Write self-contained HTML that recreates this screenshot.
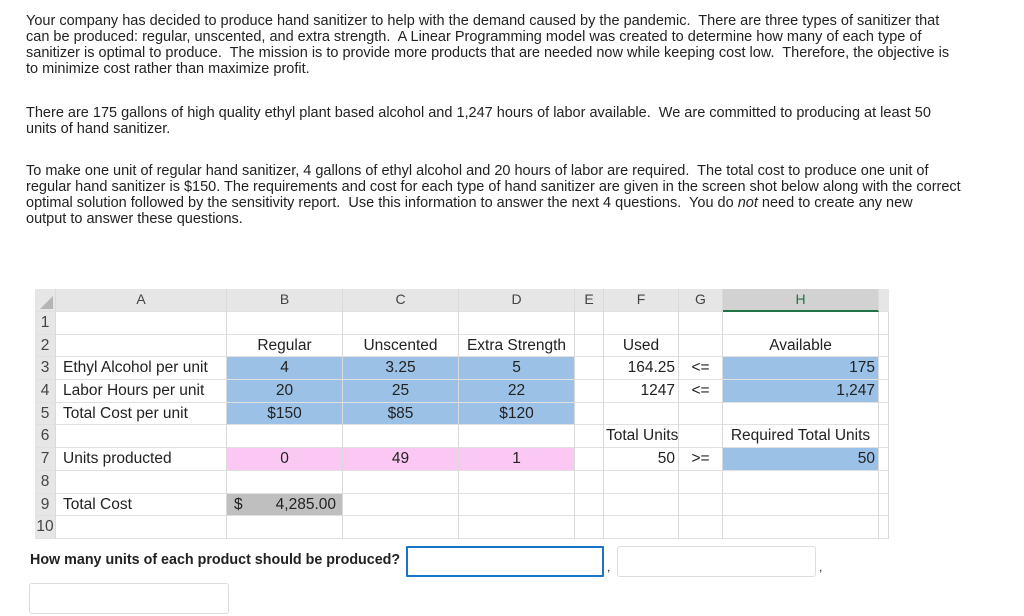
<!DOCTYPE html>
<html><head><meta charset="utf-8"><style>
body{margin:0;width:1024px;height:616px;background:#fff;font-family:"Liberation Sans",sans-serif;position:relative;overflow:hidden;color:#222}
.p{position:absolute;left:26px;font-size:14.5px;line-height:16px;color:#222;white-space:nowrap}
.g{position:absolute;left:35px;top:289px;display:grid;grid-template-columns:21px 171px 116px 116px 116px 29px 75px 44px 156px 10px;grid-template-rows:23px repeat(10,22.7px);font-size:15.5px;color:#222}
.g div{border-right:1px solid #dadada;border-bottom:1px solid #e0e0e0;box-sizing:border-box;white-space:nowrap;line-height:21px;padding:0 3px}
.h{background:#e6e6e6;text-align:center;color:#444;font-size:14px}
.rn{background:#e6e6e6;text-align:center;padding:0!important;color:#444}
.c{text-align:center}.r{text-align:right}
.b{background:#9bc2e6}.k{background:#fbc8f3}.y{background:#bfbfbf}
.q{position:absolute;left:30px;top:552px;font-size:14.3px;font-weight:bold;color:#222}
.in{position:absolute;border:1px solid #ddd;border-radius:3px;box-sizing:border-box;background:#fff}
</style></head><body>
<div class="p" style="top:13px">Your company has decided to produce hand sanitizer to help with the demand caused by the pandemic.&nbsp; There are three types of sanitizer that<br>can be produced: regular, unscented, and extra strength.&nbsp; A Linear Programming model was created to determine how many of each type of<br>sanitizer is optimal to produce.&nbsp; The mission is to provide more products that are needed now while keeping cost low.&nbsp; Therefore, the objective is<br>to minimize cost rather than maximize profit.</div>
<div class="p" style="top:105px">There are 175 gallons of high quality ethyl plant based alcohol and 1,247 hours of labor available.&nbsp; We are committed to producing at least 50<br>units of hand sanitizer.</div>
<div class="p" style="top:163px">To make one unit of regular hand sanitizer, 4 gallons of ethyl alcohol and 20 hours of labor are required.&nbsp; The total cost to produce one unit of<br>regular hand sanitizer is $150. The requirements and cost for each type of hand sanitizer are given in the screen shot below along with the correct<br>optimal solution followed by the sensitivity report.&nbsp; Use this information to answer the next 4 questions.&nbsp; You do <i>not</i> need to create any new<br>output to answer these questions.</div>

<div class="g">
<div class="h" style="position:relative"><span style="position:absolute;right:2px;bottom:2px;width:0;height:0;border-left:13px solid transparent;border-bottom:13px solid #b5b5b5"></span></div><div class="h">A</div><div class="h">B</div><div class="h">C</div><div class="h">D</div><div class="h">E</div><div class="h">F</div><div class="h">G</div><div class="h" style="background:#d2d2d2;border-bottom:2px solid #217346;color:#217346">H</div><div class="h" style="border-right:none"></div>

<div class="rn">1</div><div></div><div></div><div></div><div></div><div></div><div></div><div></div><div></div><div></div>
<div class="rn">2</div><div></div><div class="c">Regular</div><div class="c">Unscented</div><div class="c" style="padding:0">Extra Strength</div><div></div><div class="c">Used</div><div></div><div class="c">Available</div><div></div>
<div class="rn">3</div><div style="padding-left:7px">Ethyl Alcohol per unit</div><div class="c b">4</div><div class="c b">3.25</div><div class="c b">5</div><div></div><div class="r">164.25</div><div class="c">&lt;=</div><div class="r b">175</div><div></div>
<div class="rn">4</div><div style="padding-left:7px">Labor Hours per unit</div><div class="c b">20</div><div class="c b">25</div><div class="c b">22</div><div></div><div class="r">1247</div><div class="c">&lt;=</div><div class="r b">1,247</div><div></div>
<div class="rn">5</div><div style="padding-left:7px">Total Cost per unit</div><div class="c b">$150</div><div class="c b">$85</div><div class="c b">$120</div><div></div><div></div><div></div><div></div><div></div>
<div class="rn">6</div><div></div><div></div><div></div><div></div><div></div><div style="overflow:visible;padding-left:2px">Total Units</div><div></div><div class="c" style="padding:0;overflow:visible">Required Total Units</div><div></div>
<div class="rn">7</div><div style="padding-left:7px">Units producted</div><div class="c k">0</div><div class="c k">49</div><div class="c k">1</div><div></div><div class="r">50</div><div class="c">&gt;=</div><div class="r b">50</div><div></div>
<div class="rn">8</div><div></div><div></div><div></div><div></div><div></div><div></div><div></div><div></div><div></div>
<div class="rn">9</div><div style="padding-left:7px">Total Cost</div><div class="y" style="display:flex;justify-content:space-between;padding:0 6px 0 7px"><span>$</span><span>4,285.00</span></div><div></div><div></div><div></div><div></div><div></div><div></div><div></div>
<div class="rn">10</div><div></div><div></div><div></div><div></div><div></div><div></div><div></div><div></div><div></div>
</div>

<div class="q">How many units of each product should be produced?</div>
<div class="in" style="left:406px;top:546px;width:198px;height:31px;border:2px solid #1a73c7;border-radius:1px"></div>
<div style="position:absolute;left:607px;top:560px;font-size:12px">,</div>
<div class="in" style="left:617px;top:546px;width:199px;height:31px"></div>
<div style="position:absolute;left:819px;top:560px;font-size:12px">,</div>
<div class="in" style="left:29px;top:583px;width:200px;height:31px"></div>
</body></html>
